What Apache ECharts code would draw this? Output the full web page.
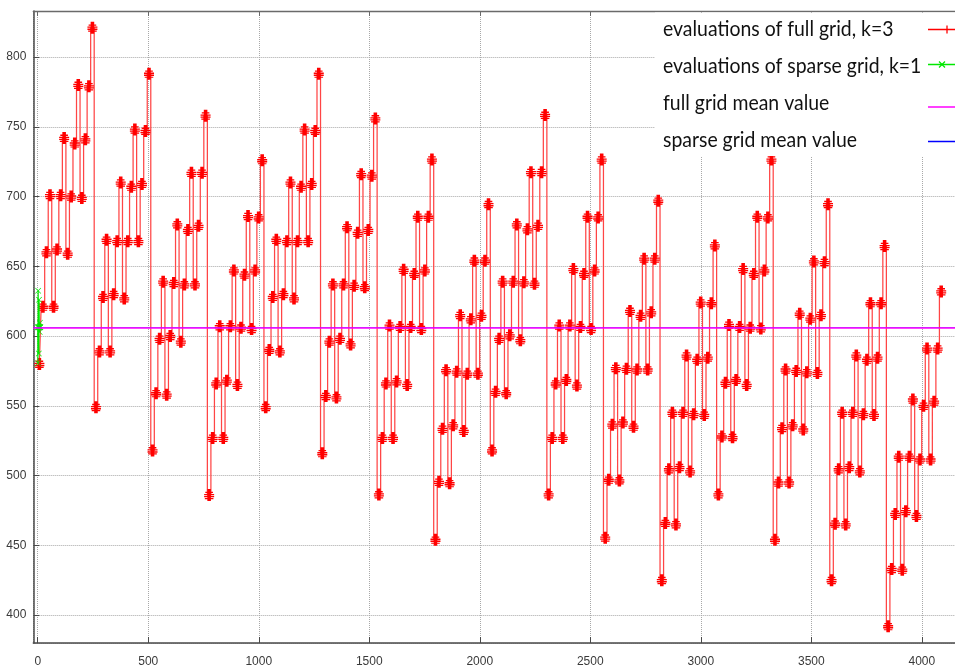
<!DOCTYPE html>
<html>
<head>
<meta charset="utf-8">
<script src="https://cdn.jsdelivr.net/npm/echarts@6/dist/echarts.min.js"></script>
<style>
  html, body { margin: 0; padding: 0; background: #fff; }
  #chart { width: 955px; height: 668px; }
</style>
</head>
<body>
<div id="chart"></div>
<script>
// Full tensor grid (k=3): 4096 evaluations. Consecutive evaluations come in
// runs of 16 with (almost) the same value, so each run is stored as one level.
// 16 blocks of 256 evaluations -> 16 runs per block.
const runLength = 16;
const fullGridRuns = [
  [580, 621, 660, 701, 621, 662, 701, 742, 659, 700, 738, 780, 699, 741, 779, 821],
  [549, 589, 628, 669, 589, 630, 668, 710, 627, 668, 707, 748, 668, 709, 747, 788],
  [518, 559, 598, 639, 558, 600, 638, 680, 596, 637, 676, 717, 637, 679, 717, 758],
  [486, 527, 566, 607, 527, 568, 607, 647, 565, 606, 644, 686, 605, 647, 685, 726],
  [549, 590, 628, 669, 589, 630, 668, 710, 627, 668, 707, 748, 668, 709, 747, 788],
  [516, 557, 596, 637, 556, 598, 637, 678, 594, 636, 674, 716, 635, 676, 715, 756],
  [486.5, 527, 566, 607.5, 527, 567.5, 606.5, 647.5, 565, 606.5, 644.5, 685.5, 605, 647, 685.5, 726.5],
  [454, 495.5, 533.5, 575.5, 494.5, 536, 574.5, 615, 532, 573, 612, 654, 573, 614.5, 654, 694.5],
  [518, 560, 598, 639, 559, 600.5, 639, 680, 597, 638.5, 676.5, 717.5, 637.5, 679, 717.5, 758.5],
  [486.5, 527, 566, 607.5, 527, 568.5, 607.5, 648, 564.5, 606.5, 644.5, 685.5, 605, 647, 685, 726.5],
  [455.5, 497, 536.5, 577, 496.5, 538, 576.5, 618, 535, 576, 614.5, 655.5, 576, 617, 655.5, 697],
  [425, 466, 504.5, 545, 465, 506, 545, 586, 503, 544, 583, 624, 543.5, 584.5, 623.5, 665],
  [486.5, 528, 566.5, 608, 527.5, 568.5, 606.5, 648, 565, 606, 644.5, 685.5, 605.5, 647, 685, 726.5],
  [454, 495, 534, 576, 495, 536, 575, 616, 533, 574, 612.5, 653.5, 573.5, 615, 653, 694.5],
  [425, 465.5, 504.5, 545, 465, 506, 545, 586, 503, 544, 583, 623.5, 543.5, 584.5, 623.5, 664.5],
  [392, 433, 472.5, 513.5, 432.5, 474.5, 513.5, 554.5, 471, 511.5, 550, 591, 511.5, 553, 591, 632]
];

// Sparse grid (k=1): 13 evaluations
const sparseGridValues = [606.3, 580.5, 632.5, 606.3, 606.3, 587.5, 626, 606.3, 606.3, 603, 609.5, 606.3, 606.3];

const fullGridMean = 606.3;
const sparseGridMean = 606.3;

const legendLabels = [
  'evaluations of full grid, k=3',
  'evaluations of sparse grid, k=1',
  'full grid mean value',
  'sparse grid mean value'
];
const colors = { full: '#ff0000', sparse: '#00e800', fullMean: '#ff00ff', sparseMean: '#0000ff' };

// each run drawn at the centre of its 16 evaluation indices
const fullGridData = [];
fullGridRuns.forEach((block, b) => {
  block.forEach((v, r) => {
    const run = b * block.length + r;
    fullGridData.push([run * runLength + (runLength - 1) / 2, v]);
  });
});
const sparseGridData = sparseGridValues.map((v, i) => [i, v]);

// stacked "+" markers of one run
const runSymbol = 'path://M27 0H57V100H27Z M10 22H74V33H10Z M0 40H84V51H0Z M0 57H84V68H0Z M6 74H78V84H6Z';
const crossSymbol = 'path://M0 1.5L1.5 0L20 18.5L18.5 20Z M18.5 0L20 1.5L1.5 20L0 18.5Z';

const axisFont = { fontFamily: "'Liberation Sans Narrow', 'Liberation Sans'", fontSize: 12, color: '#3a3a3a' };
const gridLine = { show: true, lineStyle: { color: '#a8a8a8', type: 'dotted', width: 1 } };
const frameLine = { show: true, onZero: false, lineStyle: { color: '#4a4a4a', width: 1.5 } };

const chart = echarts.init(document.getElementById('chart'), null, { renderer: 'canvas' });

// key
const legendX = 663;
const rowY = [29, 66, 103, 140];
const keyLineY = [29.5, 64.5, 107, 141.5];
const keyGraphics = [
  { type: 'rect', shape: { x: 655, y: 12.6, width: 310, height: 143.5 }, style: { fill: '#fff' }, z: 10, silent: true }
];
legendLabels.forEach((t, i) => {
  keyGraphics.push({
    type: 'text', x: legendX, y: rowY[i], scaleX: 0.925, z: 11, silent: true,
    style: { text: t, fontFamily: 'Lato', fontSize: 21, fill: '#111', verticalAlign: 'middle' }
  });
});
const keyColors = [colors.full, colors.sparse, colors.fullMean, colors.sparseMean];
keyColors.forEach((c, i) => {
  keyGraphics.push({
    type: 'line', z: 11, silent: true,
    shape: { x1: 928, y1: keyLineY[i], x2: 970, y2: keyLineY[i] },
    style: { stroke: c, lineWidth: 1.5 }
  });
});
keyGraphics.push(
  { type: 'line', z: 11, silent: true, shape: { x1: 947, y1: keyLineY[0] - 4, x2: 947, y2: keyLineY[0] + 4 }, style: { stroke: colors.full, lineWidth: 1.3 } },
  { type: 'line', z: 11, silent: true, shape: { x1: 939, y1: keyLineY[1] - 3, x2: 945, y2: keyLineY[1] + 3 }, style: { stroke: colors.sparse, lineWidth: 1.2 } },
  { type: 'line', z: 11, silent: true, shape: { x1: 945, y1: keyLineY[1] - 3, x2: 939, y2: keyLineY[1] + 3 }, style: { stroke: colors.sparse, lineWidth: 1.2 } }
);

const plainNumber = v => String(v);

chart.setOption({
  animation: false,
  backgroundColor: '#fff',
  grid: { left: 33.3, top: 11, width: 926, height: 635, containLabel: false },
  xAxis: [
    {
      type: 'value', min: -20, max: 4150, splitNumber: 8,
      axisLine: frameLine,
      axisTick: { show: true, inside: true, length: 6, lineStyle: { color: '#4a4a4a' } },
      axisLabel: Object.assign({ margin: 13, showMinLabel: false, showMaxLabel: false, formatter: plainNumber }, axisFont),
      splitLine: gridLine
    },
    {
      type: 'value', position: 'top', min: -20, max: 4150, splitNumber: 8,
      axisLine: { show: true, onZero: false, lineStyle: { color: '#6a6a6a', width: 1.3 } },
      axisTick: { show: true, inside: true, length: 5, lineStyle: { color: '#6a6a6a' } },
      axisLabel: { show: false },
      splitLine: { show: false }
    }
  ],
  yAxis: {
    type: 'value', min: 380, max: 833, splitNumber: 9,
    axisLine: frameLine,
    axisTick: { show: true, inside: true, length: 6, lineStyle: { color: '#4a4a4a' } },
    axisLabel: Object.assign({ margin: 7, showMinLabel: false, showMaxLabel: false, formatter: plainNumber }, axisFont),
    splitLine: gridLine
  },
  series: [
    {
      name: legendLabels[0], type: 'line', xAxisIndex: 0, data: fullGridData,
      step: 'middle', symbol: runSymbol, symbolSize: [10, 12], showAllSymbol: true,
      itemStyle: { color: colors.full },
      lineStyle: { color: '#ff4545', width: 1.25 },
      z: 2
    },
    {
      name: legendLabels[1], type: 'line', xAxisIndex: 0, data: sparseGridData,
      symbol: crossSymbol, symbolSize: 6, showAllSymbol: true,
      itemStyle: { color: colors.sparse },
      lineStyle: { color: colors.sparse, width: 1.2 },
      z: 3
    },
    {
      name: legendLabels[3], type: 'line', xAxisIndex: 0, data: [],
      markLine: {
        silent: true, symbol: 'none', label: { show: false },
        lineStyle: { color: colors.sparseMean, width: 0.6, type: 'solid' },
        data: [{ yAxis: sparseGridMean }]
      },
      z: 4
    },
    {
      name: legendLabels[2], type: 'line', xAxisIndex: 0, data: [],
      markLine: {
        silent: true, symbol: 'none', label: { show: false },
        lineStyle: { color: colors.fullMean, width: 1.6, type: 'solid' },
        data: [{ yAxis: fullGridMean }]
      },
      z: 5
    }
  ],
  graphic: keyGraphics
});
</script>
</body>
</html>
